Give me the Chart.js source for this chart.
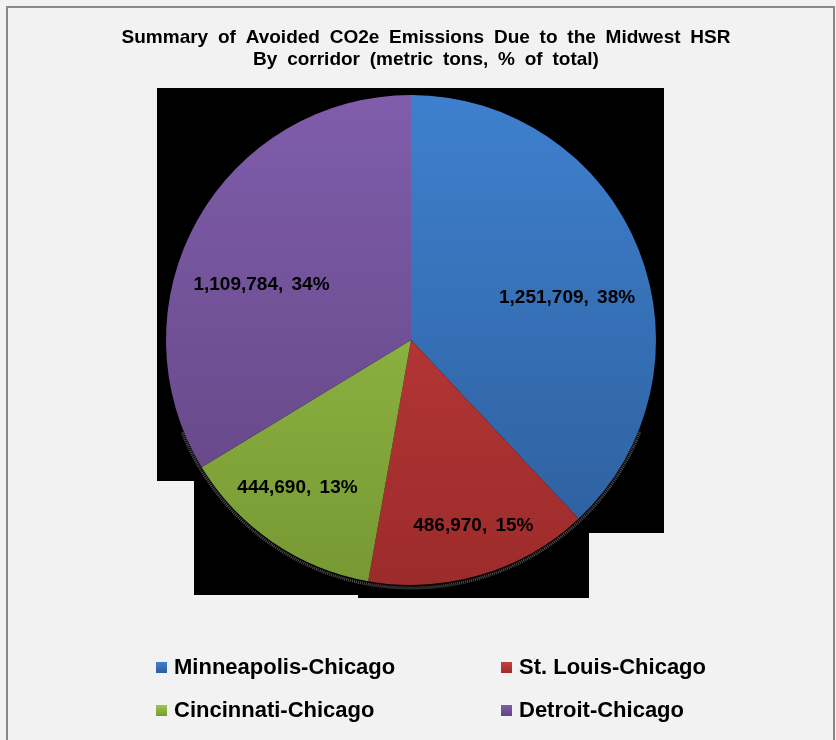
<!DOCTYPE html>
<html><head><meta charset="utf-8">
<script src="https://cdn.jsdelivr.net/npm/chart.js@4.4.0/dist/chart.umd.min.js"></script>
<style>html,body{margin:0;padding:0;background:#F2F2F2;} canvas{display:block;}</style>
</head><body>
<canvas id="c" width="836" height="740"></canvas>
<script>
const titleLines = ['Summary of Avoided CO2e Emissions Due to the Midwest HSR', 'By corridor (metric tons, % of total)'];
const corridors = ['Minneapolis-Chicago', 'St. Louis-Chicago', 'Cincinnati-Chicago', 'Detroit-Chicago'];
const avoidedTons = [1251709, 486970, 444690, 1109784];
const sharePercent = [38, 15, 13, 34];
const topColors = ['#3E80CE', '#C8403D', '#9DC84C', '#7F5DAB'];
const bottomColors = ['#2D5D9A', '#9C2B2B', '#779834', '#614480'];
const labelPlacement = [[0.66, 6.4], [0.80, -2], [0.76, 3.2], [0.65, -9.2]];

const fmt = v => v.toLocaleString('en-US');

function sliceGradient(ctx, i) {
  const chart = ctx.chart;
  const area = chart.chartArea;
  if (!area) return topColors[i];
  const g = chart.ctx.createLinearGradient(0, area.top, 0, area.bottom);
  g.addColorStop(0, topColors[i]);
  g.addColorStop(1, bottomColors[i]);
  return g;
}

const framePlugin = {
  id: 'frame',
  beforeDraw(chart) {
    const c = chart.ctx;
    c.save();
    c.fillStyle = '#F2F2F2';
    c.fillRect(0, 0, chart.width, chart.height);
    c.strokeStyle = '#898989';
    c.lineWidth = 2;
    c.strokeRect(7, 7, 827, 780);
    c.fillStyle = '#000';
    c.textAlign = 'center';
    c.textBaseline = 'middle';
    c.font = "bold 19px 'Liberation Sans', Arial, sans-serif";
    try { c.wordSpacing = '4.5px'; } catch (e) {}
    c.fillText(titleLines[0], 426, 38);
    c.fillText(titleLines[1], 426, 60);
    c.restore();
  },
  beforeDatasetsDraw(chart) {
    const arc = chart.getDatasetMeta(0).data[0];
    if (!arc) return;
    const cx = arc.x, cy = arc.y, r = arc.outerRadius;
    const c = chart.ctx;
    c.save();
    c.fillStyle = '#000';
    c.beginPath();
    c.moveTo(cx - r - 9, cy - r - 7);
    c.lineTo(cx + r + 8, cy - r - 7);
    c.lineTo(cx + r + 8, cy + 193);
    c.lineTo(cx + 178, cy + 193);
    c.lineTo(cx + 178, cy + r + 13);
    c.lineTo(cx - 53, cy + r + 13);
    c.lineTo(cx - 53, cy + r + 10);
    c.lineTo(cx - 217, cy + r + 10);
    c.lineTo(cx - 217, cy + 141);
    c.lineTo(cx - r - 9, cy + 141);
    c.closePath();
    c.fill();
    c.strokeStyle = 'rgba(110,110,110,0.75)';
    c.lineWidth = 3;
    c.setLineDash([1, 1]);
    c.beginPath();
    c.arc(cx, cy + 2, r + 1, 0.12 * Math.PI, 0.88 * Math.PI);
    c.stroke();
    c.restore();
  },
  afterDatasetsDraw(chart) {
    const meta = chart.getDatasetMeta(0);
    const c = chart.ctx;
    c.save();
    c.fillStyle = '#000';
    c.textAlign = 'center';
    c.textBaseline = 'middle';
    c.font = "bold 19px 'Liberation Sans', Arial, sans-serif";
    try { c.wordSpacing = '3px'; } catch (e) {}
    meta.data.forEach((a, i) => {
      const mid = (a.startAngle + a.endAngle) / 2 + labelPlacement[i][1] * Math.PI / 180;
      const rr = a.outerRadius * labelPlacement[i][0];
      c.fillText(fmt(avoidedTons[i]) + ', ' + sharePercent[i] + '%', a.x + Math.cos(mid) * rr, a.y + Math.sin(mid) * rr);
    });
    c.restore();
  },
  afterDraw(chart) {
    const c = chart.ctx;
    const cols = [156, 501], rows = [667, 710];
    c.save();
    c.font = "bold 22px 'Liberation Sans', Arial, sans-serif";
    c.textBaseline = 'middle';
    c.textAlign = 'left';
    corridors.forEach((name, i) => {
      const x = cols[i % 2], y = rows[Math.floor(i / 2)];
      const g = c.createLinearGradient(0, y - 5, 0, y + 6);
      g.addColorStop(0, topColors[i]);
      g.addColorStop(1, bottomColors[i]);
      c.fillStyle = g;
      c.fillRect(x, y - 5, 11, 11);
      c.fillStyle = '#000';
      c.fillText(name, x + 18, y + 1);
    });
    c.restore();
  }
};

new Chart(document.getElementById('c'), {
  type: 'pie',
  data: {
    labels: corridors,
    datasets: [{
      data: avoidedTons,
      backgroundColor: ctx => sliceGradient(ctx, ctx.dataIndex),
      borderWidth: 0
    }]
  },
  options: {
    responsive: false,
    animation: false,
    layout: { padding: { top: 95, bottom: 155, left: 166, right: 180 } },
    plugins: { legend: { display: false }, title: { display: false }, tooltip: { enabled: false } }
  },
  plugins: [framePlugin]
});
</script>
</body></html>
